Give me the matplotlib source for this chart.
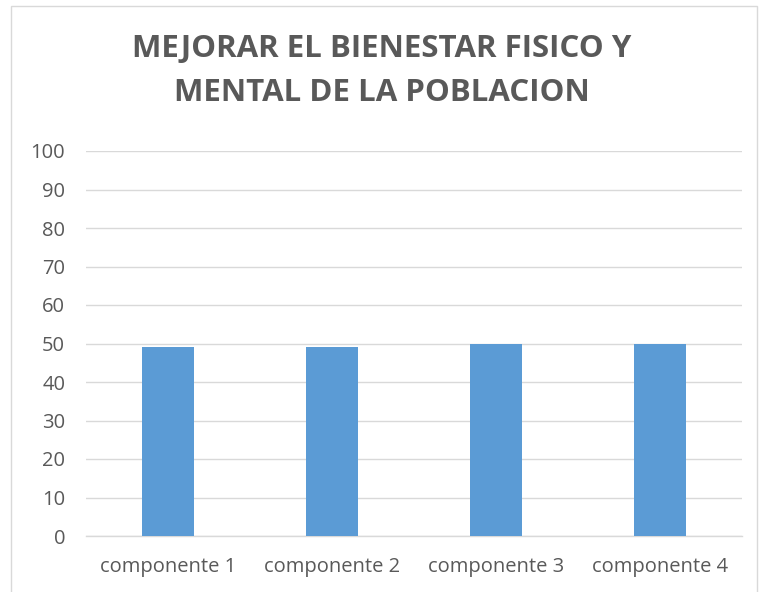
import matplotlib.pyplot as plt
from matplotlib.patches import Rectangle

# data
categories = ["componente 1", "componente 2", "componente 3", "componente 4"]
values = [49, 49, 50, 50]
title = "MEJORAR EL BIENESTAR FISICO Y\nMENTAL DE LA POBLACION"

plt.rcParams['font.family'] = ['Open Sans', 'DejaVu Sans']

fig = plt.figure(figsize=(7.64, 5.92), dpi=100)
W, H = 764, 592
ax = fig.add_axes([86 / W, 1 - 536 / H, (742 - 86) / W, (536 - 151) / H])

ax.bar(range(len(categories)), values, width=0.313, color="#5b9bd5", zorder=3)
ax.set_xlim(-0.5, len(categories) - 0.5)
ax.set_ylim(0, 100)
ax.set_yticks(range(0, 101, 10))
ax.set_xticks(range(len(categories)))
ax.set_xticklabels(categories)

ax.grid(axis="y", color="#d9d9d9", linewidth=1, zorder=0)
for s in ["top", "right", "left"]:
    ax.spines[s].set_visible(False)
ax.spines["bottom"].set_color("#d9d9d9")
ax.spines["bottom"].set_linewidth(1)
ax.tick_params(axis="both", length=0, labelcolor="#595959", labelsize=14.5)
ax.tick_params(axis="y", pad=15)
ax.tick_params(axis="x", pad=15)

fig.text(0.5, 1 - 71 / H, title, ha="center", va="center", fontsize=22.5,
         fontweight="bold", color="#595959", linespacing=1.62)

# chart border
fig.patches.append(Rectangle((11 / W, -0.01), (757 - 11) / W, 1 - 6 / H + 0.01,
                             transform=fig.transFigure, fill=False,
                             edgecolor="#d9d9d9", linewidth=1))

plt.savefig("out.png", dpi=100)
